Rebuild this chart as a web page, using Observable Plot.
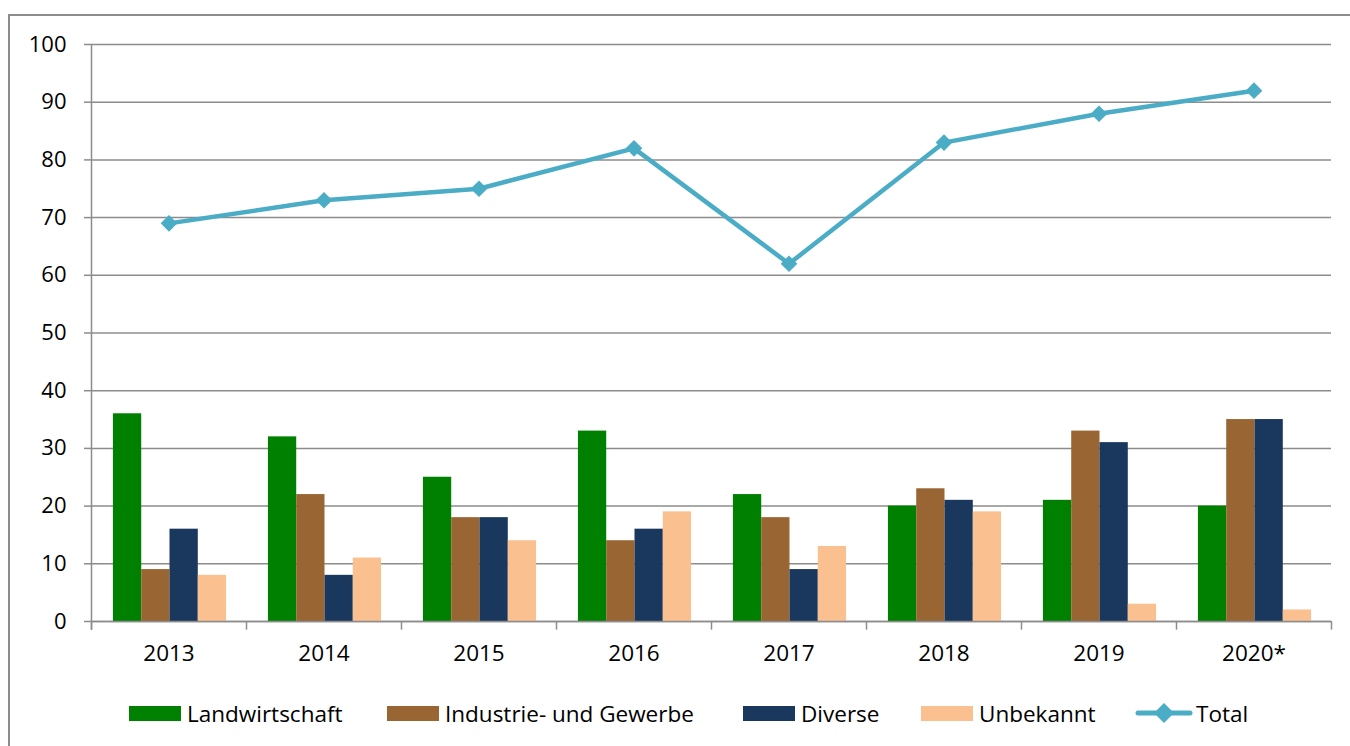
<!DOCTYPE html>
<html><head><meta charset="utf-8">
<script src="https://cdn.jsdelivr.net/npm/d3@7"></script>
<script src="https://cdn.jsdelivr.net/npm/@observablehq/plot@0.6"></script>
<style>
body{margin:0;background:#fff;font-family:"Open Sans",sans-serif;}
#wrap{position:relative;width:1350px;height:746px;overflow:hidden;background:#fff;}
#chart{position:absolute;left:0;top:0;}
#frame{position:absolute;left:8px;top:14px;width:1400px;height:800px;border:2px solid #8c8c8c;box-sizing:border-box;pointer-events:none;}
.item{position:absolute;top:698px;height:30px;display:flex;align-items:center;font-size:22.5px;color:#000;white-space:nowrap;}
.sw{width:52px;height:15px;margin-right:6px;flex:none;}
</style>
</head><body>
<div id="wrap">
  <div id="chart"></div>
  <div id="legend"></div>
  <div id="frame"></div>
</div>
<script>
// ---- data ----
const years = ["2013","2014","2015","2016","2017","2018","2019","2020*"];
const landwirtschaft = [36,32,25,33,22,20,21,20];
const industrie = [9,22,18,14,18,23,33,35];
const diverse = [16,8,18,16,9,21,31,35];
const unbekannt = [8,11,14,19,13,19,3,2];
const total = [69,73,75,82,62,83,88,92];
const seriesNames = ["Landwirtschaft","Industrie- und Gewerbe","Diverse","Unbekannt"];
const seriesColors = ["#008000","#996633","#1A375E","#FAC090"];
const totalName = "Total";
const totalColor = "#4BACC6";
const yTicks = [0,10,20,30,40,50,60,70,80,90,100];

// ---- layout ----
const W = 1350, H = 660, ML = 91, MR = 19, MT = 44, MB = 39;
const bw = (W - ML - MR) / years.length;
const groupFrac = 0.73;
const barW = bw * groupFrac / seriesNames.length;
const off = (bw - barW * seriesNames.length) / 2 + 1;
const gridColor = "#8c8c8c";

const seriesValues = [landwirtschaft, industrie, diverse, unbekannt];
const barMarks = seriesValues.map((vals, k) =>
  Plot.barY(years.map((y, i) => ({year: y, value: vals[i]})), {
    x: "year", y: "value", fill: seriesColors[k],
    insetLeft: off + k * barW,
    insetRight: bw - off - (k + 1) * barW
  })
);
const totalData = years.map((y, i) => ({year: y, value: total[i]}));

const chart = Plot.plot({
  width: W, height: H,
  marginLeft: ML, marginRight: MR, marginTop: MT, marginBottom: MB,
  style: {fontFamily: "'Open Sans', sans-serif", color: "#000", background: "transparent", overflow: "visible"},
  x: {type: "band", domain: years, padding: 0, axis: null},
  y: {domain: [0, 100], axis: null},
  marks: [
    Plot.gridY({ticks: yTicks, stroke: gridColor, strokeOpacity: 1, strokeWidth: 1.5}),
    Plot.axisY({ticks: yTicks, label: null, tickSize: 7, tickPadding: 18, stroke: gridColor, strokeWidth: 1.5, fontSize: 22, fill: "#000"}),
    Plot.axisX({label: null, tickSize: 0, tickPadding: 24, fontSize: 22.5, fill: "#000"}),
    ...barMarks,
    Plot.ruleY([0], {stroke: gridColor, strokeWidth: 1.5}),
    Plot.ruleX(years, {x: d => d, dx: -bw / 2, y1: -1.5, y2: 0, stroke: gridColor, strokeWidth: 1.5}),
    Plot.ruleX([years[years.length - 1]], {x: d => d, dx: bw / 2, y1: -1.5, y2: 0, stroke: gridColor, strokeWidth: 1.5}),
    Plot.ruleX([years[0]], {x: d => d, dx: -bw / 2, y1: -1.5, y2: 100, stroke: gridColor, strokeWidth: 1.5}),
    Plot.line(totalData, {x: "year", y: "value", stroke: totalColor, strokeWidth: 4.5}),
    Plot.dot(totalData, {x: "year", y: "value", symbol: "diamond2", r: 7.5, fill: totalColor})
  ]
});
document.getElementById("chart").appendChild(chart);

// ---- legend ----
const legend = document.getElementById("legend");
const legendLeft = [129, 387, 743, 921];
seriesNames.forEach((name, k) => {
  const it = document.createElement("div");
  it.className = "item";
  it.style.left = legendLeft[k] + "px";
  it.innerHTML = `<span class="sw" style="background:${seriesColors[k]}"></span><span>${name}</span>`;
  legend.appendChild(it);
});
const tIt = document.createElement("div");
tIt.className = "item";
tIt.style.left = "1134px";
tIt.innerHTML = `<svg width="60" height="24" style="margin-right:2px;flex:none"><line x1="4" y1="12" x2="56" y2="12" stroke="${totalColor}" stroke-width="5" stroke-linecap="round"/><path d="M30 2 L40 12 L30 22 L20 12 Z" fill="${totalColor}"/></svg><span>${totalName}</span>`;
legend.appendChild(tIt);
</script>
</body></html>
